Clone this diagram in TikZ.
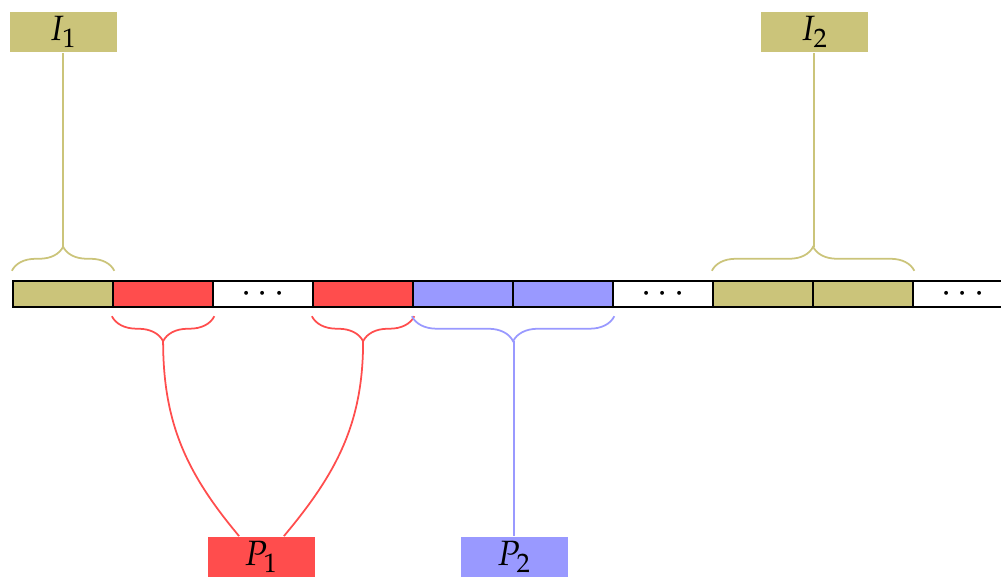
\documentclass[tikz,border=0pt]{standalone}
\usepackage{amsmath,amssymb}
\usepackage{mathpazo}
\usepackage{tikz}
\usetikzlibrary{matrix, calc, decorations.pathreplacing}
\definecolor{olivebox}{RGB}{203,196,122}
\definecolor{redbox}{RGB}{255,77,77}
\definecolor{bluebox}{RGB}{153,153,255}

\begin{document}
\begin{tikzpicture}[line width=0.5pt,
    labelbox/.style={fill=#1, minimum width=1.07cm, minimum height=0.40cm, inner sep=0pt},
    upbrace/.style={draw=#1, decorate, decoration={brace, amplitude=0.24cm, raise=0.09cm}},
    downbrace/.style={draw=#1, decorate, decoration={brace, mirror, amplitude=0.25cm, raise=0.08cm}},
  ]
    \useasboundingbox (0,0) rectangle (10.01,5.77);
    \matrix (m) [matrix of math nodes, nodes in empty cells, anchor=west, inner sep=0pt, column sep=-0.7pt,
      nodes={draw, line width=0.7pt, anchor=center, minimum width=1cm, minimum height=0.26cm, inner sep=0pt}] at (0.11,2.83)
    {
      |[fill=olivebox]| & |[fill=redbox]| & \cdots & |[fill=redbox]| & |[fill=bluebox]| & |[fill=bluebox]| & \cdots & |[fill=olivebox]| & |[fill=olivebox]| & \cdots \\
    };
    % braces over and under the cells
    \draw[upbrace=olivebox] (m-1-1.north west) -- (m-1-1.north east);
    \draw[upbrace=olivebox] (m-1-8.north west) -- (m-1-9.north east);
    \draw[downbrace=redbox] (m-1-2.south west) -- (m-1-2.south east);
    \draw[downbrace=redbox] (m-1-4.south west) -- (m-1-4.south east);
    \draw[downbrace=bluebox] (m-1-5.south west) -- (m-1-6.south east);
    \coordinate (i1) at ($(m-1-1.north)+(0,0.33)$);
    \coordinate (i2) at ($(m-1-8.north east)+(0,0.33)$);
    \coordinate (p1a) at ($(m-1-2.south)+(0,-0.33)$);
    \coordinate (p1b) at ($(m-1-4.south)+(0,-0.33)$);
    \coordinate (p2) at ($(m-1-5.south east)+(0,-0.33)$);
    % labels
    \node[labelbox=olivebox] (I1) at (i1 |- 0,5.45) {$I_1$};
    \node[labelbox=olivebox] (I2) at (i2 |- 0,5.45) {$I_2$};
    \node[labelbox=redbox] (P1) at (2.615,0.20) {$P_1$};
    \node[labelbox=bluebox] (P2) at (p2 |- 0,0.20) {$P_2$};
    \path[draw=olivebox] (i1) edge (I1);
    \path[draw=olivebox] (i2) edge (I2);
    \path[draw=redbox] (p1a) edge[out=-90, in=130] (P1.137);
    \path[draw=redbox] (p1b) edge[out=-90, in=50] (P1.43);
    \path[draw=bluebox] (p2) edge (P2);
\end{tikzpicture}
\end{document}
